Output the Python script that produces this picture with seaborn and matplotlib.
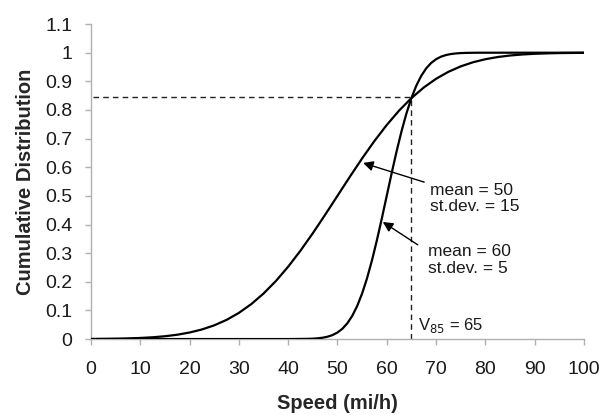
import matplotlib
matplotlib.use("Agg")
import matplotlib.pyplot as plt
import seaborn as sns
import pandas as pd
from matplotlib.ticker import FuncFormatter

# Curve 1: mean = 50, st.dev. = 15
speed_wide = [0, 2.5, 5, 7.5, 10, 12.5, 15, 17.5, 20, 22.5, 25, 27.5, 30, 32.5, 35, 37.5,
              40, 42.5, 45, 47.5, 50, 52.5, 55, 57.5, 60, 62.5, 65, 67.5, 70, 72.5, 75,
              77.5, 80, 82.5, 85, 87.5, 90, 92.5, 95, 97.5, 100]
cdf_wide = [0.0004, 0.0008, 0.0013, 0.0023, 0.0038, 0.0062, 0.0098, 0.0151, 0.0228, 0.0334,
            0.0478, 0.0668, 0.0912, 0.1217, 0.1587, 0.2023, 0.2525, 0.3085, 0.3694, 0.4338,
            0.5, 0.5662, 0.6306, 0.6915, 0.7475, 0.7977, 0.8413, 0.8783, 0.9088, 0.9332,
            0.9522, 0.9666, 0.9772, 0.9849, 0.9902, 0.9938, 0.9962, 0.9977, 0.9987, 0.9992,
            0.9996]

# Curve 2: mean = 60, st.dev. = 5
speed_narrow = [0, 20, 40, 44, 45, 46, 47, 48, 49, 50, 51, 52, 53, 54, 55, 56, 57, 58, 59,
                60, 61, 62, 63, 64, 65, 66, 67, 68, 69, 70, 71, 72, 73, 74, 75, 76, 78, 80,
                90, 100]
cdf_narrow = [0.0, 0.0, 0.0, 0.0007, 0.0013, 0.0026, 0.0047, 0.0082, 0.0139, 0.0228, 0.0359,
              0.0548, 0.0808, 0.1151, 0.1587, 0.2119, 0.2743, 0.3446, 0.4207, 0.5, 0.5793,
              0.6554, 0.7257, 0.7881, 0.8413, 0.8849, 0.9192, 0.9452, 0.9641, 0.9772,
              0.9861, 0.9918, 0.9953, 0.9974, 0.9987, 0.9993, 0.9999, 1.0, 1.0, 1.0]

v85 = 65
p85 = 0.846
x_ticks = list(range(0, 101, 10))
y_ticks = [round(i * 0.1, 1) for i in range(12)]

sns.set_style("ticks")
plt.rcParams['font.family'] = ['Liberation Sans', 'DejaVu Sans']

fig = plt.figure(figsize=(6.02, 4.15), dpi=100)
ax = fig.add_axes([0.151, 0.183, 0.819, 0.759])

df_w = pd.DataFrame({"speed": speed_wide, "cdf": cdf_wide})
df_n = pd.DataFrame({"speed": speed_narrow, "cdf": cdf_narrow})
sns.lineplot(data=df_w, x="speed", y="cdf", ax=ax, color="black", lw=1.6, zorder=3)
sns.lineplot(data=df_n, x="speed", y="cdf", ax=ax, color="black", lw=1.6, zorder=3)

# V85 dashed guides
ax.plot([0.5, v85], [p85, p85], color="#222222", lw=1.0, ls=(0, (4, 3)), zorder=2)
ax.plot([v85, v85], [0, p85], color="#222222", lw=1.0, ls=(0, (4, 3)), zorder=2)

ax.set_xlim(0, 100)
ax.set_ylim(0, 1.1)
ax.set_xticks(x_ticks)
ax.set_yticks(y_ticks)
ax.yaxis.set_major_formatter(FuncFormatter(lambda v, p: f"{v:g}"))

for s in ["top", "right"]:
    ax.spines[s].set_visible(False)
for s in ["left", "bottom"]:
    ax.spines[s].set_color("#b0b0b0")
    ax.spines[s].set_linewidth(1.0)
ax.tick_params(axis="both", colors="#b0b0b0", length=4.5, width=1.0,
               labelcolor="#1a1a1a", labelsize=14)
ax.tick_params(axis="x", pad=11)
ax.tick_params(axis="y", pad=9)

ax.set_xlabel("Speed (mi/h)", fontsize=14.5, fontweight="bold", labelpad=12)
ax.set_ylabel("Cumulative Distribution", fontsize=14.5, fontweight="bold", labelpad=7)

# Annotations
ax.annotate("", xy=(55.2, 0.615), xytext=(67.6, 0.548),
            arrowprops=dict(arrowstyle="-|>", color="black", lw=1.0,
                            mutation_scale=15, shrinkA=0, shrinkB=0))
ax.annotate("", xy=(59.2, 0.409), xytext=(66.3, 0.329),
            arrowprops=dict(arrowstyle="-|>", color="black", lw=1.0,
                            mutation_scale=15, shrinkA=0, shrinkB=0))
ax.text(68.8, 0.49, "mean = 50\nst.dev. = 15", fontsize=12.5, va="center", ha="left",
        linespacing=1.1, color="#1a1a1a")
ax.text(68.4, 0.276, "mean = 60\nst.dev. = 5", fontsize=12.5, va="center", ha="left",
        linespacing=1.1, color="#1a1a1a")
ax.text(66.3, 0.03, r"V$_{85}$ = 65", fontsize=12, va="baseline", ha="left",
        color="#1a1a1a")

fig.savefig("out.png", dpi=100)
